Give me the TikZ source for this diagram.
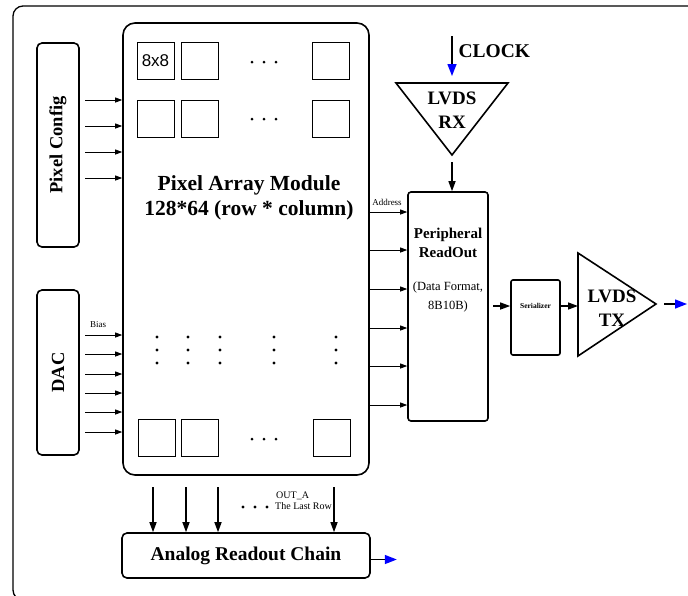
\documentclass[tikz,border=0pt]{standalone}
\usepackage{fontspec}
\setmainfont{Liberation Serif}
\newfontfamily\cellfont{Liberation Sans}
\usetikzlibrary{arrows.meta, positioning, calc}

\begin{document}
\begin{tikzpicture}[
  x=1pt, y=-1pt,
  block/.style={draw, line width=1.6pt, rounded corners=5pt, align=center, inner sep=0pt},
  cell/.style={draw, line width=0.9pt, minimum size=37pt, inner sep=0pt, font=\cellfont\fontsize{17}{17}\selectfont},
  arr/.style={-{Triangle[length=7pt, width=5pt]}, line width=0.8pt},
  bigarr/.style={-{Triangle[length=10pt, width=7pt]}, line width=1.4pt},
  outarr/.style={-{Triangle[length=12pt, width=9pt, fill=blue, color=blue]}, line width=1.4pt},
  tag/.style={font=\fontsize{9}{10}\selectfont, inner sep=1pt},
  vdots/.style={circle, fill, inner sep=0pt, minimum size=3.2pt},
  bigtext/.style={font=\bfseries\fontsize{21.5}{25}\selectfont, align=center}
]

\useasboundingbox (0,0) rectangle (688,595);

% Outer frame
\draw[line width=1.3pt, rounded corners=10pt] (13,6) rectangle (700,600);

% Left side blocks
\node[block, minimum width=42pt, minimum height=204pt] (cfg) at (58,145) {};
\node[rotate=90, font=\bfseries\fontsize{18.5}{18}\selectfont] at (cfg.center) {Pixel Config};
\node[block, minimum width=42pt, minimum height=165pt] (dac) at (58,372.5) {};
\node[rotate=90, font=\bfseries\fontsize{18.5}{18}\selectfont] at (dac.center) {DAC};

% Pixel array module
\node[block, rounded corners=12pt, minimum width=246pt, minimum height=452pt] (pam) at (246,249) {};
\node[bigtext] (pamtitle) at (249,198) {Pixel Array Module\\128*64 (row * column)};

% Pixel cells
\node[cell] (c11) at (155.5,61) {8x8};
\node[cell] (c12) at (199.5,61) {};
\node[cell] (c1n) at (330.5,61) {};
\node[cell] (c21) at (155.5,118.5) {};
\node[cell] (c22) at (199.5,118.5) {};
\node[cell] (c2n) at (330.5,118.5) {};
\node[cell] (cl1) at (156.5,438) {};
\node[cell] (cl2) at (200,438) {};
\node[cell] (cln) at (331.5,438) {};
\foreach \r/\y in {1/62, 2/119, l/439} {
  \foreach \x in {252,264,276}
    \node[vdots, minimum size=3pt] at (\x,\y) {};
}
\foreach \x in {157,188,220,274,336} {
  \foreach \y in {337,350,363}
    \node[vdots] at (\x,\y) {};
}

% Config and bias inputs
\foreach \y in {100,126,152,178}
  \draw[arr] (85,\y) -- (pam.west |- 0,\y);
\foreach \y in {335,354,374,393,412,432}
  \draw[arr] (85,\y) -- (pam.west |- 0,\y);
\node[tag] at (98,325) {Bias};

% Analog readout chain
\node[block, minimum width=248pt, minimum height=45pt, font=\bfseries\fontsize{19.5}{19}\selectfont] (arc) at (246,555.5) {Analog Readout Chain};
\foreach \x in {153,186,218,334}
  \draw[bigarr] (\x,487) -- (arc.north -| \x,0);
\foreach \x in {243,255,267}
  \node[vdots] at (\x,507) {};
\node[tag, font=\fontsize{10}{11}\selectfont, align=left, anchor=west] at (274,501) {\hspace*{1pt}OUT\_A\\The Last Row};
\draw[outarr] (arc.east) ++(0,4) coordinate (arcout) -- ++(26,0);

% Peripheral readout
\node[block, rounded corners=3pt, minimum width=80pt, minimum height=229pt] (pro) at (448,306.5) {};
\node[font=\bfseries\fontsize{15}{19.5}\selectfont, align=center] (protitle) at (448,243) {Peripheral\\ReadOut};
\node[font=\fontsize{12.5}{19}\selectfont, align=center] (prosub) at (448,297) {(Data Format,\\8B10B)};
\foreach \y in {212,250,289,328,366,405}
  \draw[arr] (pam.east |- 0,\y) -- (pro.west |- 0,\y);
\node[tag] at (387,202) {Address};

% LVDS receiver
\coordinate (rxl) at (396,83);
\coordinate (rxr) at (508,83);
\coordinate (rxtip) at (452,155);
\draw[line width=1.6pt] (rxl) -- (rxr) -- (rxtip) -- cycle;
\node[font=\bfseries\fontsize{19}{24}\selectfont, align=center] (rx) at (452,110) {LVDS\\RX};
\coordinate (clk) at (452,36);
\draw[outarr] (clk) -- (452,76);
\node[font=\bfseries\fontsize{19.5}{19}\selectfont, anchor=west] at (455,51) {CLOCK};
\draw[bigarr] (452,162) -- (pro.north -| 452,0);

% Serializer and LVDS transmitter
\node[block, rounded corners=2pt, minimum width=49pt, minimum height=75pt] (ser) at (535.5,317.5) {};
\node[font=\bfseries\fontsize{7.5}{8}\selectfont] (sertext) at (535.5,306) {Serializer};
\draw[bigarr] (493,306) -- (ser.west |- 0,306);
\coordinate (txt) at (578,253);
\coordinate (txb) at (578,356);
\coordinate (txtip) at (656,304);
\draw[line width=1.6pt] (txt) -- (txtip) -- (txb) -- cycle;
\node[font=\bfseries\fontsize{19}{24}\selectfont, align=center] (tx) at (612,308) {LVDS\\TX};
\draw[bigarr] (ser.east |- 0,306) -- (txt |- 0,306);
\draw[outarr] (664,304) -- (687,304);

\end{tikzpicture}
\end{document}
